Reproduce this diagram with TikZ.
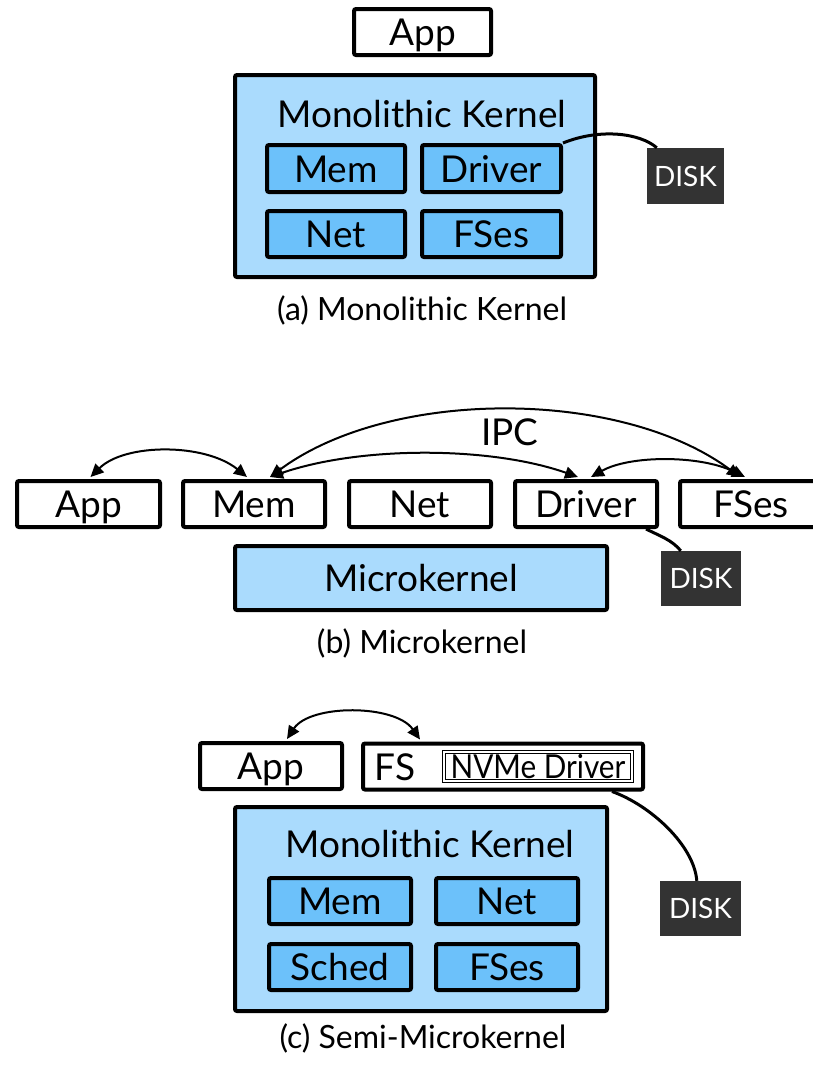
\documentclass[tikz,border=0pt]{standalone}
\usepackage{fontspec}
\setmainfont{Lato}
\usetikzlibrary{arrows.meta,calc}
\definecolor{klight}{RGB}{170,219,253}
\definecolor{kmid}{RGB}{108,193,250}
\definecolor{diskgray}{RGB}{51,51,51}
\newcommand{\bigtxt}{\fontsize{37}{40}\selectfont}
\newcommand{\disktxt}{\fontsize{28}{30}\selectfont}
\newcommand{\captxt}{\fontsize{32}{34}\selectfont}
\begin{document}
\begin{tikzpicture}[x=1pt,y=-1pt,
  box/.style={draw=black,line width=4,rounded corners=2,inner sep=0,
    font=\bigtxt,text height=27pt,text depth=0pt},
  wbox/.style={box,fill=white},
  kbox/.style={box,fill=klight},
  sbox/.style={box,fill=kmid},
  diskbox/.style={fill=diskgray,text=white,font=\disktxt,inner sep=0,
    minimum width=78,minimum height=55,text height=20pt,text depth=0pt},
  lbl/.style={font=\bigtxt,inner sep=0,anchor=base},
  captionlbl/.style={font=\captxt,inner sep=0,anchor=base},
  conn/.style={line width=3,black},
  ipc/.style={line width=2pt,arrows={Triangle[length=13pt,width=12pt]-Triangle[length=13pt,width=12pt]}}
]
\useasboundingbox (0,0) rectangle (813,1066);

% ---------- (a) Monolithic kernel ----------
\node[wbox,minimum width=137,minimum height=46] (appA) at (422.5,32) {App};
\node[kbox,minimum width=360,minimum height=202] (kA) at (415,176) {};
\node[lbl] (kAl) at (422,127) {Monolithic Kernel};
\node[sbox,minimum width=138,minimum height=47] (memA) at (336,168.5) {Mem};
\node[sbox,minimum width=139,minimum height=47] (drvA) at (491.5,168.5) {Driver};
\node[sbox,minimum width=138,minimum height=46] (netA) at (336,234) {Net};
\node[sbox,minimum width=139,minimum height=46] (fsA) at (491.5,234) {FSes};
\node[diskbox,minimum width=77,minimum height=56] (dkA) at (685.5,176) {DISK};
\draw[conn] (drvA.north east) .. controls (600,128) and (640,133) .. ($(dkA.north west)+(10,0)$);
\node[captionlbl] (capA) at (422,320) {(a) Monolithic Kernel};

% ---------- (b) Microkernel ----------
\node[wbox,minimum width=143,minimum height=46] (appB) at (88.5,504) {App};
\node[wbox,minimum width=142,minimum height=46] (memB) at (254,504) {Mem};
\node[wbox,minimum width=142,minimum height=46] (netB) at (420,504) {Net};
\node[wbox,minimum width=142,minimum height=46] (drvB) at (586,504) {Driver};
\node[wbox,minimum width=142,minimum height=46] (fsB) at (751,504) {FSes};
\node[kbox,minimum width=372,minimum height=64] (kB) at (421,578) {Microkernel};
\node[diskbox,minimum width=80,minimum height=55] (dkB) at (701,578.5) {DISK};
\draw[conn] ($(drvB.south east)+(-13,0)$) .. controls (660,536) and (672,540) .. ($(dkB.north west)+(20,0)$);
\coordinate (mA) at ($(memB.north)+(-7,-2)$);
\coordinate (mB) at ($(memB.north)+(16,-2)$);
\coordinate (dA) at ($(drvB.north)+(-8,-2)$);
\coordinate (dB) at ($(drvB.north)+(5,-2)$);
\coordinate (fA) at ($(fsB.north)+(-11,-2)$);
\coordinate (fB) at ($(fsB.north)+(-6,-2)$);
\draw[ipc] ($(appB.north)+(2,-2)$) .. controls (125,443) and (205,443) .. (mA);
\draw[ipc] (mB) .. controls (360,446) and (490,446) .. (dA);
\draw[ipc] (mB) .. controls (390,388) and (620,388) .. (fA);
\draw[ipc] (dB) .. controls (630,455) and (700,455) .. (fB);
\node[lbl] (ipcl) at (510,445) {IPC};
\node[captionlbl] (capB) at (422,653) {(b) Microkernel};

% ---------- (c) Semi-microkernel ----------
\node[wbox,minimum width=142,minimum height=46] (appC) at (271,766) {App};
\node[wbox,minimum width=280,minimum height=46] (fsC) at (503,766.5) {};
\node[lbl] (fsCl) at (395,780) {FS};
\node[draw=black,double=white,double distance=1.5,line width=1,inner sep=0,
  minimum width=188,minimum height=29,text height=23pt,text depth=0pt,
  font=\fontsize{33}{35}\selectfont] (nvme) at (538,766.5) {\scalebox{0.9}[1]{NVMe Driver}};
\draw[ipc] ($(appC.north)+(16,-2)$) .. controls (310,704) and (395,704) .. ($(fsC.north)+(-83,-2)$);
\node[kbox,minimum width=372,minimum height=204] (kC) at (421,909) {};
\node[lbl] (kCl) at (430,857) {Monolithic Kernel};
\node[sbox,minimum width=142,minimum height=46] (memC) at (340,901) {Mem};
\node[sbox,minimum width=142,minimum height=46] (netC) at (507,901) {Net};
\node[sbox,minimum width=142,minimum height=46] (schC) at (340,967) {Sched};
\node[sbox,minimum width=142,minimum height=46] (fssC) at (507,967) {FSes};
\node[diskbox,minimum width=81,minimum height=55] (dkC) at (700.5,908.5) {DISK};
\draw[conn] ($(fsC.south east)+(-33,0)$) .. controls (650,805) and (694,845) .. ($(dkC.north west)+(37,0)$);
\node[captionlbl] (capC) at (423,1048) {(c) Semi-Microkernel};
\end{tikzpicture}
\end{document}
